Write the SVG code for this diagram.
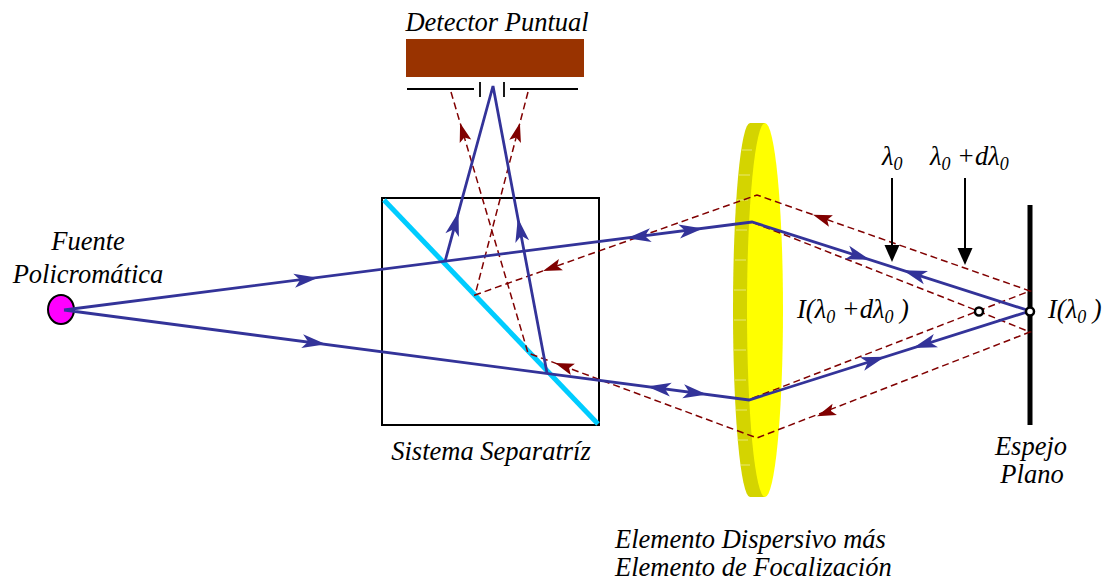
<svg xmlns="http://www.w3.org/2000/svg" xmlns:xlink="http://www.w3.org/1999/xlink" width="1109" height="581" viewBox="0 0 1109 581">
  <style>
    .lbl { font-family: "Liberation Serif", "Times New Roman", serif; font-style: italic; font-size: 26.5px; fill: #000; }
    .sub { font-size: 18px; }
    .ray { fill: none; stroke: #333399; stroke-width: 2.8; stroke-linejoin: miter; }
    .dash { fill: none; stroke: #800000; stroke-width: 1.5; stroke-dasharray: 7 4; }
    .barrow { fill: #333399; }
    .rarrow { fill: #800000; }
    .facet { stroke: #EDED90; stroke-width: 0.8; }
  </style>
  <defs>
    <path id="bhead" d="M0,0 L-24,-7 L-18,0 L-24,7 Z"/>
    <path id="rhead" d="M0,0 L-19,-6 L-15,0 L-19,6 Z"/>
  </defs>

  <rect width="1109" height="581" fill="#ffffff"/>

  <!-- Dispersive + focusing element (3D disc) -->
  <g id="lens">
    <path d="M765,123 L750,123 A17,187 0 0 0 750,497 L765,497 Z" fill="#D4D400"/>
    <g class="facet">
      <line x1="742" y1="150" x2="752" y2="150"/>
      <line x1="739" y1="175" x2="750" y2="175"/>
      <line x1="737" y1="200" x2="748" y2="200"/>
      <line x1="736" y1="230" x2="747" y2="230"/>
      <line x1="735" y1="260" x2="746" y2="260"/>
      <line x1="734" y1="290" x2="746" y2="290"/>
      <line x1="734" y1="320" x2="746" y2="320"/>
      <line x1="734" y1="350" x2="746" y2="350"/>
      <line x1="735" y1="380" x2="746" y2="380"/>
      <line x1="736" y1="410" x2="747" y2="410"/>
      <line x1="737" y1="440" x2="748" y2="440"/>
      <line x1="740" y1="465" x2="750" y2="465"/>
    </g>
    <ellipse cx="765" cy="310" rx="18" ry="187" fill="#FFFF00"/>
  </g>

  <!-- Beam splitter -->
  <g id="splitter">
    <rect x="382" y="198" width="217" height="227" fill="none" stroke="#000" stroke-width="2"/>
    <line x1="384" y1="200" x2="598" y2="424" stroke="#00CCFF" stroke-width="5"/>
  </g>

  <!-- Point detector with slit -->
  <g id="detector">
    <rect x="406" y="39" width="178" height="38" fill="#993300"/>
    <g stroke="#000" stroke-width="1.8">
      <line x1="407" y1="89" x2="474" y2="89"/>
      <line x1="510" y1="89" x2="578" y2="89"/>
      <line x1="480" y1="82" x2="480" y2="97"/>
      <line x1="504" y1="82" x2="504" y2="97"/>
    </g>
  </g>

  <!-- Plane mirror -->
  <g id="mirror">
    <line x1="1030" y1="205" x2="1030" y2="425" stroke="#000" stroke-width="5"/>
  </g>

  <!-- Polychromatic source -->
  <g id="source">
    <ellipse cx="61" cy="309.5" rx="13" ry="14.5" fill="#FF00FF" stroke="#000" stroke-width="2"/>
  </g>

  <!-- Rays -->
  <g id="connectors">
    <!-- dispersed wavelength (dashed) -->
    <polyline class="dash" points="451,92 528,353 757,438 1030,332 978,311 752,222"/>
    <polyline class="dash" points="528,92 475,295 757,195 1030,291 978,311 748,400"/>

    <!-- central wavelength (solid) -->
    <polyline class="ray" points="64,310 752,222 1030,311 749,400 64,310"/>
    <polyline class="ray" points="445,261.5 493,86 547,373"/>

    <!-- blue arrowheads -->
    <use xlink:href="#bhead" class="barrow" transform="translate(318,277.7) rotate(-7.31)"/>
    <use xlink:href="#bhead" class="barrow" transform="translate(326,344.2) rotate(7.5)"/>
    <use xlink:href="#bhead" class="barrow" transform="translate(627,238.2) rotate(172.7)"/>
    <use xlink:href="#bhead" class="barrow" transform="translate(703,228.5) rotate(-7.3)"/>
    <use xlink:href="#bhead" class="barrow" transform="translate(647,386.5) rotate(187.5)"/>
    <use xlink:href="#bhead" class="barrow" transform="translate(707,394.4) rotate(7.5)"/>
    <use xlink:href="#bhead" class="barrow" transform="translate(870,259.8) rotate(17.75)"/>
    <use xlink:href="#bhead" class="barrow" transform="translate(903,270.3) rotate(197.75)"/>
    <use xlink:href="#bhead" class="barrow" transform="translate(885,356.8) rotate(-17.5)"/>
    <use xlink:href="#bhead" class="barrow" transform="translate(913,347.9) rotate(162.5)"/>
    <use xlink:href="#bhead" class="barrow" transform="translate(458.5,212) rotate(-74.7)"/>
    <use xlink:href="#bhead" class="barrow" transform="translate(517.8,218) rotate(-100.66)"/>

    <!-- red arrowheads -->
    <use xlink:href="#rhead" class="rarrow" transform="translate(813,214.7) rotate(199.4)"/>
    <use xlink:href="#rhead" class="rarrow" transform="translate(543,270.9) rotate(160.5)"/>
    <use xlink:href="#rhead" class="rarrow" transform="translate(519.9,123) rotate(-75.4)"/>
    <use xlink:href="#rhead" class="rarrow" transform="translate(460.1,123) rotate(-106.4)"/>
    <use xlink:href="#rhead" class="rarrow" transform="translate(555,362.9) rotate(200.15)"/>
    <use xlink:href="#rhead" class="rarrow" transform="translate(817,416.3) rotate(158.8)"/>

    <!-- wavelength pointers -->
    <g stroke="#000" stroke-width="2">
      <line x1="892" y1="178" x2="892" y2="247"/>
      <line x1="965" y1="178" x2="965" y2="250"/>
    </g>
    <path d="M892,262 L884.5,245 L899.5,245 Z" fill="#000"/>
    <path d="M965,265 L957.5,248 L972.5,248 Z" fill="#000"/>
  </g>

  <!-- Focal points -->
  <g id="foci" fill="#fff" stroke="#000" stroke-width="2.5">
    <circle cx="979" cy="311.5" r="4"/>
    <circle cx="1030" cy="311.5" r="4"/>
  </g>

  <!-- Labels -->
  <g id="labels">
    <text class="lbl" x="497" y="31" text-anchor="middle">Detector Puntual</text>
    <text class="lbl" x="88" y="250" text-anchor="middle">Fuente</text>
    <text class="lbl" x="88" y="283" text-anchor="middle">Policromática</text>
    <text class="lbl" x="491" y="460" text-anchor="middle">Sistema Separatríz</text>
    <text class="lbl" x="1031" y="455" text-anchor="middle">Espejo</text>
    <text class="lbl" x="1032" y="483" text-anchor="middle">Plano</text>
    <text class="lbl" x="615" y="548">Elemento Dispersivo más</text>
    <text class="lbl" x="615" y="576">Elemento de Focalización</text>
    <text class="lbl" x="882" y="165">λ<tspan class="sub" dy="5">0</tspan></text>
    <text class="lbl" x="930" y="165">λ<tspan class="sub" dy="5">0</tspan><tspan dy="-5"> +dλ</tspan><tspan class="sub" dy="5">0</tspan></text>
    <text class="lbl" x="797" y="318">I(λ<tspan class="sub" dy="5">0</tspan><tspan dy="-5"> +dλ</tspan><tspan class="sub" dy="5">0</tspan><tspan dy="-5"> )</tspan></text>
    <text class="lbl" x="1048" y="318">I(λ<tspan class="sub" dy="5">0</tspan><tspan dy="-5"> )</tspan></text>
  </g>
</svg>
